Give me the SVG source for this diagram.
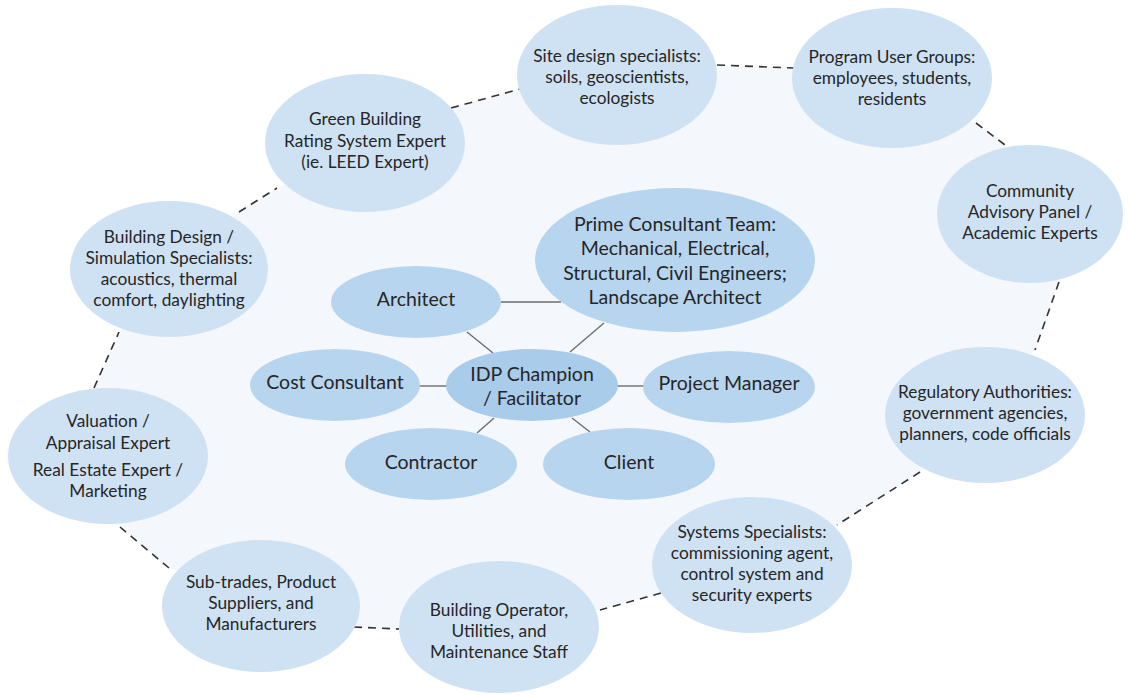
<svg xmlns="http://www.w3.org/2000/svg" width="1128" height="695" viewBox="0 0 1128 695">
<style>
.bg{fill:#f4f8fc;stroke:none}
.outer{fill:#cfe2f3}
.inner{fill:#b7d5ee}
.hub{fill:#a9cceb}
.dash{stroke:#333;stroke-width:1.6;stroke-dasharray:8 6;fill:none}
.solid{stroke:#6e6e6e;stroke-width:1.4;fill:none}
text{font-family:Lato,"Liberation Sans",sans-serif;fill:#262626;text-anchor:middle}
.s{font-size:17.3px}
.l{font-size:19.5px}
</style>
<rect width="1128" height="695" fill="#fff"/>
<polygon class="bg" points="451,108 520,89 717,65 794,68 976,123 1009,148 1059,282 1035,350 920,472 837,525 661,593 600,610 399,629 354,627 169,568 120,527 94,388 119,332 239,212 277,188"/>
<g id="connectors">
<line class="dash" x1="451" y1="108" x2="520" y2="89"/>
<line class="dash" x1="717" y1="65" x2="794" y2="68"/>
<line class="dash" x1="976" y1="123" x2="1009" y2="148"/>
<line class="dash" x1="1059" y1="282" x2="1035" y2="350"/>
<line class="dash" x1="920" y1="472" x2="837" y2="525"/>
<line class="dash" x1="661" y1="593" x2="600" y2="610"/>
<line class="dash" x1="354" y1="627" x2="399" y2="629"/>
<line class="dash" x1="169" y1="568" x2="120" y2="527"/>
<line class="dash" x1="94" y1="388" x2="119" y2="332"/>
<line class="dash" x1="239" y1="212" x2="277" y2="188"/>
<line class="solid" x1="501" y1="302" x2="561" y2="302"/>
<line class="solid" x1="467" y1="332" x2="493" y2="353"/>
<line class="solid" x1="604" y1="323" x2="570" y2="352"/>
<line class="solid" x1="419" y1="386" x2="449" y2="386"/>
<line class="solid" x1="616" y1="386" x2="645" y2="386"/>
<line class="solid" x1="494" y1="418" x2="477" y2="433"/>
<line class="solid" x1="572" y1="418" x2="590" y2="432"/>
</g>
<g id="site"><ellipse class="outer" cx="617" cy="75" rx="100" ry="70"/>
<text class="s" x="617" y="62">Site design specialists:</text><text class="s" x="617" y="83">soils, geoscientists,</text><text class="s" x="617" y="104">ecologists</text></g>
<g id="program"><ellipse class="outer" cx="892" cy="78" rx="100" ry="70"/>
<text class="s" x="892" y="63">Program User Groups:</text><text class="s" x="892" y="84">employees, students,</text><text class="s" x="892" y="105">residents</text></g>
<g id="community"><ellipse class="outer" cx="1030" cy="214" rx="93" ry="69"/>
<text class="s" x="1030" y="197">Community</text><text class="s" x="1030" y="218">Advisory Panel /</text><text class="s" x="1030" y="239">Academic Experts</text></g>
<g id="green"><ellipse class="outer" cx="365" cy="143" rx="100" ry="69"/>
<text class="s" x="365" y="125">Green Building</text><text class="s" x="365" y="147">Rating System Expert</text><text class="s" x="365" y="168">(ie. LEED Expert)</text></g>
<g id="bdesign"><ellipse class="outer" cx="169" cy="269" rx="99" ry="68"/>
<text class="s" x="169" y="243">Building Design /</text><text class="s" x="169" y="264">Simulation Specialists:</text><text class="s" x="169" y="285">acoustics, thermal</text><text class="s" x="169" y="306">comfort, daylighting</text></g>
<g id="valuation"><ellipse class="outer" cx="108" cy="456" rx="100" ry="68"/>
<text class="s" x="108" y="427">Valuation /</text><text class="s" x="108" y="449">Appraisal Expert</text><text class="s" x="108" y="476">Real Estate Expert /</text><text class="s" x="108" y="497">Marketing</text></g>
<g id="subtrades"><ellipse class="outer" cx="261" cy="606" rx="99" ry="66"/>
<text class="s" x="261" y="588">Sub-trades, Product</text><text class="s" x="261" y="609">Suppliers, and</text><text class="s" x="261" y="630">Manufacturers</text></g>
<g id="operator"><ellipse class="outer" cx="499" cy="627" rx="100" ry="66"/>
<text class="s" x="499" y="616">Building Operator,</text><text class="s" x="499" y="637">Utilities, and</text><text class="s" x="499" y="658">Maintenance Staff</text></g>
<g id="systems"><ellipse class="outer" cx="752" cy="565" rx="100" ry="68"/>
<text class="s" x="752" y="538">Systems Specialists:</text><text class="s" x="752" y="559">commissioning agent,</text><text class="s" x="752" y="580">control system and</text><text class="s" x="752" y="601">security experts</text></g>
<g id="regulatory"><ellipse class="outer" cx="985" cy="415" rx="100" ry="68"/>
<text class="s" x="985" y="398">Regulatory Authorities:</text><text class="s" x="985" y="419">government agencies,</text><text class="s" x="985" y="440">planners, code officials</text></g>
<g id="prime"><ellipse class="inner" cx="675" cy="260" rx="140" ry="72"/>
<text class="l" x="675" y="231">Prime Consultant Team:</text><text class="l" x="675" y="255">Mechanical, Electrical,</text><text class="l" x="675" y="280">Structural, Civil Engineers;</text><text class="l" x="675" y="304">Landscape Architect</text></g>
<g id="architect"><ellipse class="inner" cx="416" cy="302" rx="85" ry="36"/><text class="l" x="416" y="306">Architect</text></g>
<g id="cost"><ellipse class="inner" cx="335" cy="385" rx="85" ry="36"/><text class="l" x="335" y="389">Cost Consultant</text></g>
<g id="idp"><ellipse class="hub" cx="532" cy="385" rx="86" ry="36"/><text class="l" x="532" y="381">IDP Champion</text><text class="l" x="532" y="405">/ Facilitator</text></g>
<g id="pm"><ellipse class="inner" cx="729" cy="387" rx="86" ry="36"/><text class="l" x="729" y="390">Project Manager</text></g>
<g id="contractor"><ellipse class="inner" cx="431" cy="464" rx="86" ry="36"/><text class="l" x="431" y="469">Contractor</text></g>
<g id="client"><ellipse class="inner" cx="629" cy="464" rx="86" ry="36"/><text class="l" x="629" y="469">Client</text></g>
</svg>
